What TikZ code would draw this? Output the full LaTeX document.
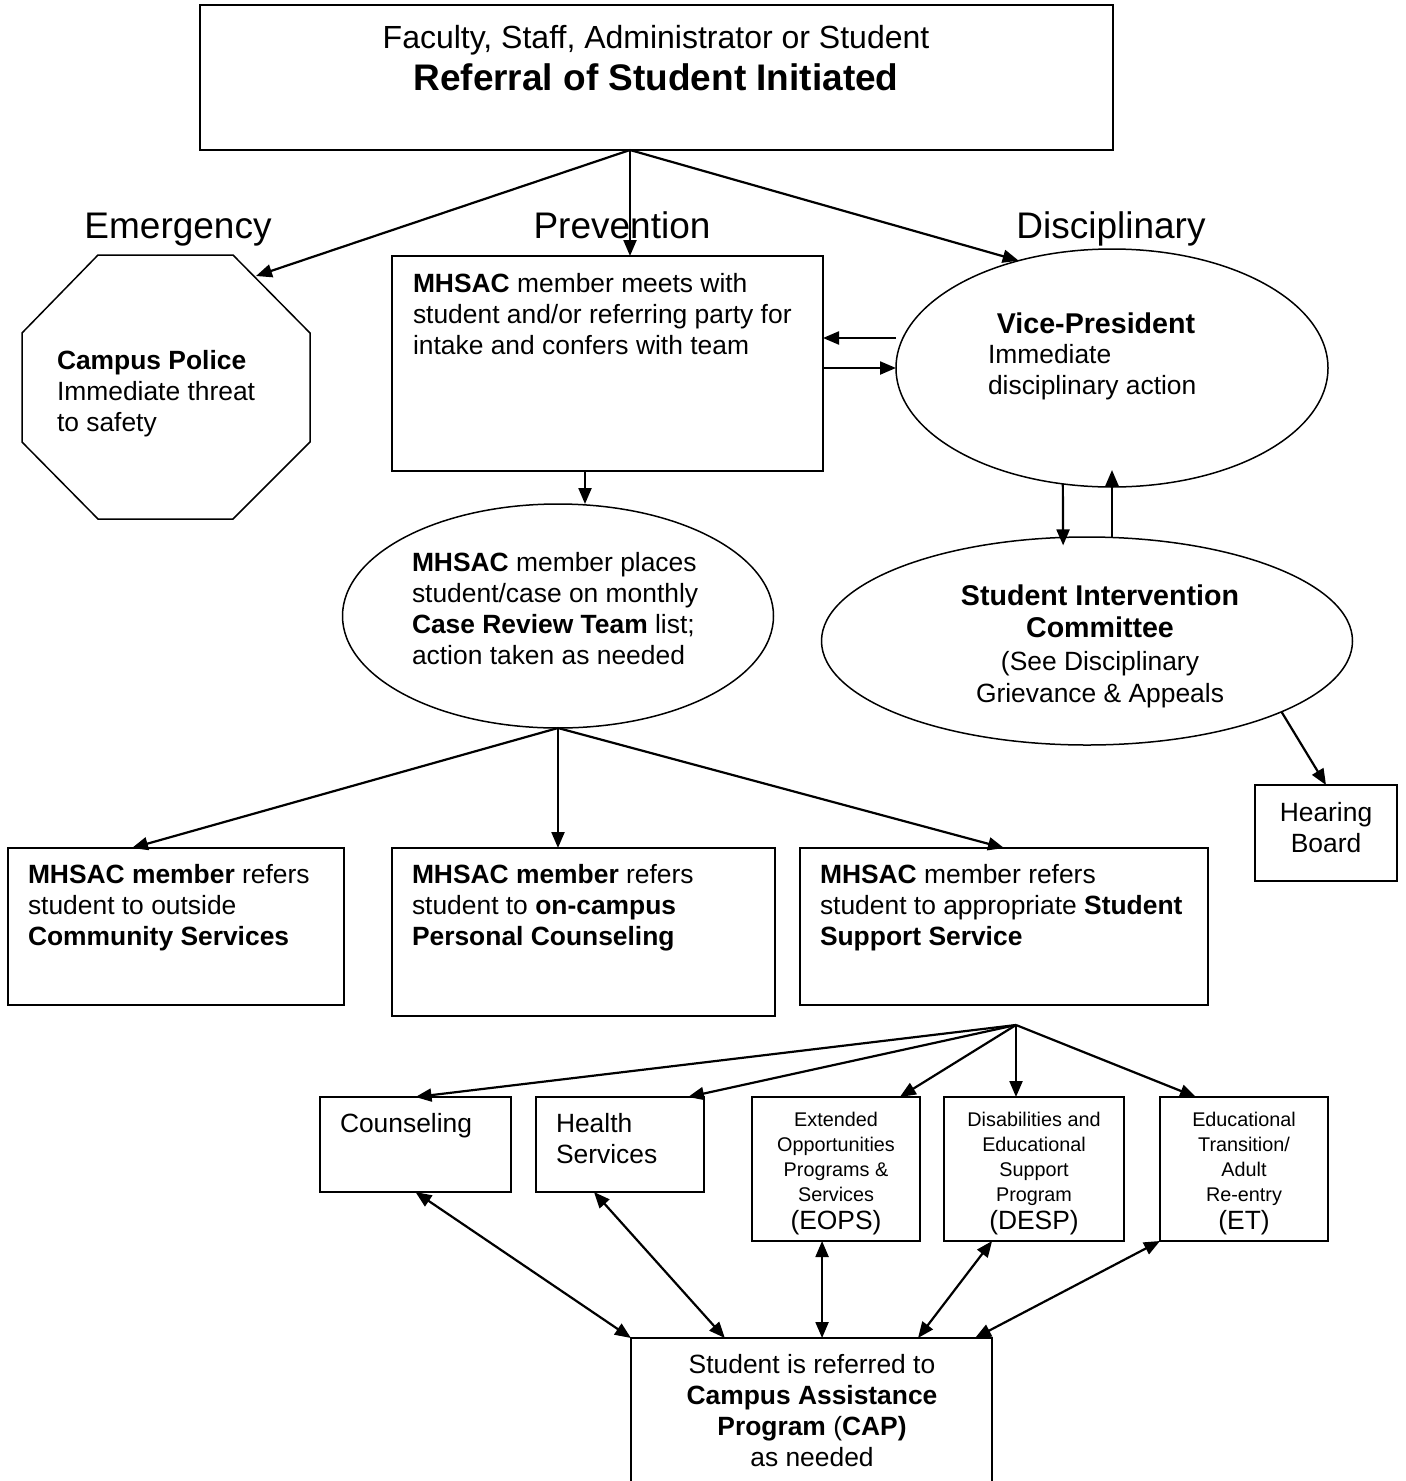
\documentclass[tikz,border=0pt]{standalone}
\usepackage{fontspec}
\setmainfont{Liberation Sans}
\usetikzlibrary{shapes.geometric,arrows.meta,fit,calc}
\begin{document}
\begin{tikzpicture}[x=1pt,y=-1pt,
  every node/.style={inner sep=0pt,outer sep=0pt},
  frame/.style={draw,line width=1.8pt},
  oval/.style={draw,ellipse,line width=1.5pt,inner sep=0pt},
  body/.style={font=\fontsize{26.4}{31}\selectfont},
  lt/.style={body,align=left,anchor=north west},
  ct/.style={body,align=center,anchor=north},
  small/.style={font=\fontsize{19.8}{25}\selectfont,align=center,anchor=north},
  head/.style={font=\fontsize{37}{44}\selectfont,anchor=base},
  arr/.style={line width=2.2pt,-{Triangle[length=16pt,width=13pt]}},
  darr/.style={line width=2.2pt,{Triangle[length=16pt,width=13pt]}-{Triangle[length=16pt,width=13pt]}},
]
\useasboundingbox (0,0) rectangle (1406,1481);
\fill[white] (0,0) rectangle (1406,1481);

% top box
\node[frame,fit={(200,5) (1113,150)}] (top) {};
\node[font=\fontsize{32}{38}\selectfont,anchor=base] (topa) at (656,48) {Faculty, Staff, Administrator or Student};
\node[font=\fontsize{37}{44}\selectfont\bfseries,anchor=base] (topb) at (656,90) {Referral of Student Initiated};
\coordinate (topo) at (630,150);

% headings
\node[head] (lem) at (178,238) {Emergency};
\node[head] (lpr) at (622,238) {Prevention};
\node[head] (ldi) at (1111,238) {Disciplinary};

% octagon
\draw[line width=1.5pt] (98,255) -- (233,255) -- (310,333) -- (310,442) -- (233,519) -- (98,519) -- (22,442) -- (22,333) -- cycle;
\coordinate (police) at (256,276);
\node[lt] (cpt) at (57,350) {\textbf{Campus Police}\\Immediate threat\\to safety};

% prevention box
\node[frame,fit={(392,256) (823,471)}] (prev) {};
\node[lt] (prt) at (413,273) {\textbf{MHSAC} member meets with\\student and/or referring party for\\intake and confers with team};

% VP ellipse
\node[oval,minimum width=432pt,minimum height=238pt] (vp) at (1112,368) {};
\node[font=\fontsize{28.6}{33}\selectfont\bfseries] (vpt) at (1096,323) {Vice-President};
\node[lt] (vpb) at (988,344) {Immediate\\disciplinary action};

% arrows from top
\draw[arr] (topo) -- (police);
\draw[arr] (topo) -- (topo |- prev.north);
\draw[arr] (topo) -- (vp.131);

% prevention <-> VP
\coordinate (ya) at (0,338);
\draw[arr] (vp.west |- ya) -- (prev.east |- ya);
\draw[arr] (prev.east |- vp.west) -- (vp.west);

% MHSAC ellipse
\node[oval,minimum width=431pt,minimum height=224pt] (mh) at (558,616) {};
\node[lt] (mht) at (412,552) {\textbf{MHSAC} member places\\student/case on monthly\\\textbf{Case Review Team} list;\\action taken as needed};
\coordinate (xm) at (585,0);
\draw[arr] (prev.south -| xm) -- (mh.north -| xm);

% SIC ellipse
\node[oval,minimum width=531pt,minimum height=208pt] (sic) at (1087,641) {};
\node[ct,font=\fontsize{26.4}{32}\selectfont] (sict) at (1100,585) {{\fontsize{28.6}{33}\selectfont\bfseries Student Intervention}\\{\fontsize{28.6}{33}\selectfont\bfseries Committee}\\[1pt](See Disciplinary\\Grievance \& Appeals};
\draw[arr,shorten >=-8pt] (vp.247) -- (sic.103);
\draw[arr] (sic.north -| vp.south) -- ($(vp.south)+(0,-17)$);

% Hearing board
\node[frame,fit={(1255,785) (1397,881)}] (hb) {};
\node[ct] (hbt) at (1326,802) {Hearing\\Board};
\draw[arr] (sic.-20) -- (hb.north);

% row of three boxes
\node[frame,fit={(8,848) (344,1005)}] (b1) {};
\node[frame,fit={(392,848) (775,1016)}] (b2) {};
\node[frame,fit={(800,848) (1208,1005)}] (b3) {};
\node[lt] (b1t) at (28,864) {\textbf{MHSAC member} refers\\student to outside\\\textbf{Community Services}};
\node[lt] (b2t) at (412,864) {\textbf{MHSAC member} refers\\student to \textbf{on-campus}\\\textbf{Personal Counseling}};
\node[lt] (b3t) at (820,864) {\textbf{MHSAC} member refers\\student to appropriate \textbf{Student}\\\textbf{Support Service}};
\draw[arr] (mh.south) -- ($(b1.north west)!0.369!(b1.north east)$);
\draw[arr] (mh.south) -- (b2.north -| mh.south);
\draw[arr] (mh.south) -- (b3.north);

% bottom services
\coordinate (hub) at (1016,1025);
\node[frame,fit={(320,1097) (511,1192)}] (c1) {};
\node[frame,fit={(536,1097) (704,1192)}] (c2) {};
\node[frame,fit={(752,1097) (920,1241)}] (c3) {};
\node[frame,fit={(944,1097) (1124,1241)}] (c4) {};
\node[frame,fit={(1160,1097) (1328,1241)}] (c5) {};
\node[lt] (c1t) at (340,1113) {Counseling};
\node[lt] (c2t) at (556,1113) {Health\\Services};
\node[small] (c3t) at (836,1112) {Extended\\Opportunities\\Programs \&\\Services\\[3pt]{\fontsize{26.4}{27}\selectfont (EOPS)}};
\node[small] (c4t) at (1034,1112) {Disabilities and\\Educational\\Support\\Program\\[3pt]{\fontsize{26.4}{27}\selectfont (DESP)}};
\node[small] (c5t) at (1244,1112) {Educational\\Transition/\\Adult\\Re-entry\\[3pt]{\fontsize{26.4}{27}\selectfont (ET)}};
\draw[arr] (hub) -- (c1.north);
\draw[arr] (hub) -- ($(c2.north west)!0.905!(c2.north east)$);
\draw[arr] (hub) -- ($(c3.north west)!0.88!(c3.north east)$);
\draw[arr] (hub) -- (c4.north -| hub);
\draw[arr] (hub) -- ($(c5.north west)!0.214!(c5.north east)$);

% CAP box
\node[frame,fit={(631,1338) (992,1520)}] (cap) {};
\node[ct] (capt) at (812,1354) {Student is referred to\\\textbf{Campus Assistance}\\\textbf{Program} (\textbf{CAP)}\\as needed};
\draw[darr] (c1.south) -- (cap.north west);
\draw[darr] ($(c2.south west)!0.345!(c2.south east)$) -- ($(cap.north west)!0.26!(cap.north east)$);
\coordinate (e3) at ($(c3.south west)!0.417!(c3.south east)$);
\draw[darr] (e3) -- (e3 |- cap.north);
\draw[darr] ($(c4.south west)!0.267!(c4.south east)$) -- ($(cap.north west)!0.795!(cap.north east)$);
\draw[darr] (c5.south west) -- ($(cap.north west)!0.953!(cap.north east)$);
\end{tikzpicture}
\end{document}
